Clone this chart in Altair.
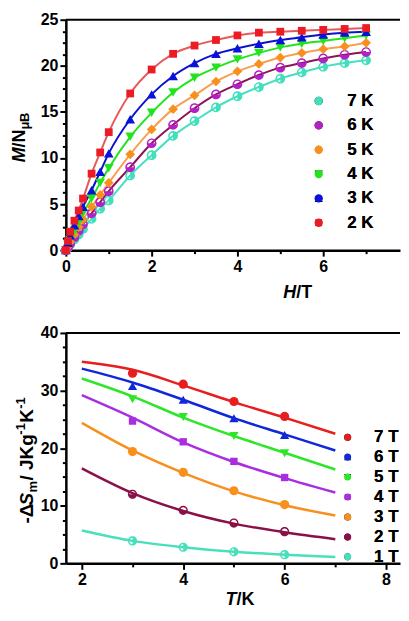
import altair as alt
import pandas as pd

# ---------------- top panel: M/NμB vs H/T ----------------
H_T = [0, 0.05, 0.1, 0.2, 0.3, 0.4, 0.6, 0.8, 1.0, 1.5, 2.0, 2.5, 3.0, 3.5,
       4.0, 4.5, 5.0, 5.5, 6.0, 6.5, 7.0]
M_2K = [0, 1.0, 2.0, 3.2, 4.3, 5.6, 8.3, 10.6, 12.8, 17.0, 19.6, 21.3, 22.2, 22.8,
        23.3, 23.6, 23.7, 23.8, 23.9, 24.0, 24.1]
M_3K = [0, 0.8, 1.6, 2.7, 3.7, 4.7, 6.5, 8.5, 10.5, 14.2, 16.9, 18.9, 20.3, 21.3,
        21.9, 22.4, 22.8, 23.1, 23.4, 23.6, 23.7]
M_4K = [0, 0.6, 1.1, 2.1, 3.0, 4.0, 5.6, 7.3, 8.9, 12.3, 14.9, 17.1, 18.7, 19.8,
        20.7, 21.4, 22.0, 22.4, 22.7, 23.0, 23.3]
M_5K = [0, 0.4, 0.9, 1.7, 2.5, 3.3, 4.7, 6.0, 7.3, 10.4, 13.1, 15.3, 16.8, 18.3,
        19.4, 20.2, 20.9, 21.4, 21.8, 22.1, 22.5]
M_6K = [0, 0.35, 0.7, 1.4, 2.1, 2.8, 4.0, 5.2, 6.4, 9.0, 11.6, 13.6, 15.4, 16.9,
        18.0, 19.0, 19.8, 20.3, 20.8, 21.2, 21.5]
M_7K = [0, 0.3, 0.6, 1.15, 1.7, 2.3, 3.4, 4.5, 5.4, 8.1, 10.3, 12.4, 14.0, 15.5,
        16.7, 17.7, 18.6, 19.3, 19.9, 20.3, 20.6]
top_series = ["7 K", "6 K", "5 K", "4 K", "3 K", "2 K"]
top_values = [M_7K, M_6K, M_5K, M_4K, M_3K, M_2K]

# ---------------- bottom panel: -ΔSm vs T/K ----------------
T_pts = [3, 4, 5, 6]
S_7T = [33.0, 31.1, 28.1, 25.5]
S_6T = [30.8, 28.4, 25.2, 22.3]
S_5T = [28.5, 25.4, 22.1, 19.1]
S_4T = [24.7, 21.1, 17.7, 14.9]
S_3T = [19.4, 15.8, 12.6, 10.2]
S_2T = [12.0, 9.2, 7.0, 5.5]
S_1T = [3.9, 2.8, 2.0, 1.5]
T_fit = [2, 3, 4, 5, 6, 7]
F_7T = [35.0, 33.6, 30.9, 28.0, 25.3, 22.5]
F_6T = [33.8, 31.4, 28.4, 25.2, 22.4, 19.6]
F_5T = [32.1, 29.0, 25.3, 22.1, 19.2, 16.3]
F_4T = [29.2, 25.3, 21.0, 17.6, 14.8, 12.3]
F_3T = [24.4, 19.6, 15.7, 12.5, 10.1, 8.3]
F_2T = [16.5, 12.2, 9.1, 6.9, 5.4, 4.2]
F_1T = [5.7, 3.9, 2.8, 2.0, 1.5, 1.1]
bot_series = ["7 T", "6 T", "5 T", "4 T", "3 T", "2 T", "1 T"]
bot_pts = [S_7T, S_6T, S_5T, S_4T, S_3T, S_2T, S_1T]
bot_fit = [F_7T, F_6T, F_5T, F_4T, F_3T, F_2T, F_1T]

# ---------------- styles ----------------
FONT = "Liberation Sans"
HALF_RIGHT = ("M-1,0A1,1 0 1,1 1,0A1,1 0 1,1 -1,0Z"
              "M-0.7,0A0.7,0.7 0 1,0 0.7,0A0.7,0.7 0 1,0 -0.7,0Z"
              "M0,-0.8A0.8,0.8 0 0,1 0,0.8Z")
HALF_BOTTOM = ("M-1,0A1,1 0 1,1 1,0A1,1 0 1,1 -1,0Z"
               "M-0.7,0A0.7,0.7 0 1,0 0.7,0A0.7,0.7 0 1,0 -0.7,0Z"
               "M0.8,0A0.8,0.8 0 0,1 -0.8,0Z")
SMALL_SQ = "M-0.8,-0.8H0.8V0.8H-0.8Z"

top_pt_colors = ["#3fe0bb", "#b41fc6", "#f7901e", "#22e41e", "#0a12d8", "#ec1c24"]
top_ln_colors = ["#48e0c0", "#8c1458", "#f8a050", "#22e41e", "#0a12d0", "#e65a5a"]
top_shapes = [HALF_RIGHT, HALF_BOTTOM, "diamond", "triangle-down", "triangle-up", SMALL_SQ]

bot_colors = ["#e81e1e", "#1028d8", "#2ee628", "#a82ee0", "#f8901e", "#8a1048", "#48e0bc"]
bot_shapes = ["circle", "triangle-up", "triangle-down", SMALL_SQ, "circle", HALF_BOTTOM, HALF_RIGHT]

top_rows = []
for s, vals in zip(top_series, top_values):
    for h, m in zip(H_T, vals):
        top_rows.append({"series": s, "H": h, "M": m})
df_top = pd.DataFrame(top_rows)

bp_rows, bf_rows = [], []
for s, pv, fv in zip(bot_series, bot_pts, bot_fit):
    for t, v in zip(T_pts, pv):
        bp_rows.append({"series": s, "T": t, "S": v})
    for t, v in zip(T_fit, fv):
        bf_rows.append({"series": s, "T": t, "S": v})
df_bp = pd.DataFrame(bp_rows)
df_bf = pd.DataFrame(bf_rows)


def axis(values, test):
    return alt.Axis(
        values=values, title=None, grid=False, format="d",
        labelExpr=f"({test}) ? datum.label : ''",
        tickSize={"condition": {"test": test, "value": 6}, "value": 3.5},
        tickWidth=2, tickColor="black", domainWidth=2.5, domainColor="black",
        labelFont=FONT, labelFontWeight="bold", labelFontSize=16, labelColor="black",
        labelPadding=2, labelOverlap=False, labelFlush=False, labelBound=False,
    )


def txt(s, x, y, size=18, style="normal", angle=0):
    return alt.Chart(alt.Data(values=[{"k": 0}])).mark_text(
        text=s, font=FONT, fontSize=size, fontWeight="bold", fontStyle=style,
        angle=angle, align="left", baseline="alphabetic", color="black",
    ).encode(x=alt.value(x), y=alt.value(y))


def top_border(w):
    return alt.Chart(alt.Data(values=[{"k": 0}])).mark_rule(color="black", strokeWidth=2).encode(
        x=alt.value(0), x2=alt.value(w), y=alt.value(0))


W = 335
HT = 231
HB = 231
# ---------- top chart ----------
xt = alt.X("H:Q", scale=alt.Scale(domain=[0, 7.79], nice=False, zero=False),
           axis=axis([i * 0.5 for i in range(16)], "datum.value % 2 === 0"))
yt = alt.Y("M:Q", scale=alt.Scale(domain=[0, 25], nice=False),
           axis=axis([i * 1.25 for i in range(21)], "datum.value % 5 === 0"))
leg_top = alt.Legend(orient="none", legendX=245, legendY=73, title=None,
                     labelFont=FONT, labelFontWeight="bold", labelFontSize=17,
                     labelColor="black", symbolSize=70, labelOffset=20,
                     rowPadding=6.4, padding=0, symbolStrokeWidth=0)
top_lines = alt.Chart(df_top).mark_line(strokeWidth=2, interpolate="monotone").encode(
    x=xt, y=yt, detail="series:N",
    color=alt.Color("series:N", scale=alt.Scale(domain=top_series, range=top_ln_colors), legend=None),
)
top_pts = alt.Chart(df_top).mark_point(filled=True, size=95, opacity=1, strokeWidth=0).encode(
    x=xt, y=yt,
    color=alt.Color("series:N", scale=alt.Scale(domain=top_series, range=top_pt_colors), legend=leg_top),
    shape=alt.Shape("series:N", scale=alt.Scale(domain=top_series, range=top_shapes), legend=leg_top),
)
top_titles = [
    txt("M", -41, 143, style="italic", angle=270),
    txt("/N", -41, 128, angle=270),
    txt("μ", -37, 110, size=13, angle=270),
    txt("B", -37, 102.5, size=13, angle=270),
    txt("H", 218, HT + 48, style="italic"),
    txt("/T", 231, HT + 48),
]
top = alt.layer(top_border(W), top_lines, top_pts, *top_titles).resolve_scale(
    color="independent").properties(width=W, height=HT)

# ---------- bottom chart ----------
xb = alt.X("T:Q", scale=alt.Scale(domain=[1.685, 8.276], nice=False, zero=False),
           axis=axis([2 + i * 0.5 for i in range(13)], "datum.value % 2 === 0"))
yb = alt.Y("S:Q", scale=alt.Scale(domain=[0, 40], nice=False),
           axis=axis([i * 2.5 for i in range(17)], "datum.value % 10 === 0"))
leg_bot = alt.Legend(orient="none", legendX=274, legendY=96, title=None,
                     labelFont=FONT, labelFontWeight="bold", labelFontSize=17,
                     labelColor="black", symbolSize=50, labelOffset=18,
                     rowPadding=2, padding=0, symbolStrokeWidth=0)
bot_lines = alt.Chart(df_bf).mark_line(strokeWidth=2.5, interpolate="monotone").encode(
    x=xb, y=yb, detail="series:N",
    color=alt.Color("series:N", scale=alt.Scale(domain=bot_series, range=bot_colors), legend=None),
)
bot_pts_layer = alt.Chart(df_bp).mark_point(filled=True, size=85, opacity=1, strokeWidth=0).encode(
    x=xb, y=yb,
    color=alt.Color("series:N", scale=alt.Scale(domain=bot_series, range=bot_colors), legend=leg_bot),
    shape=alt.Shape("series:N", scale=alt.Scale(domain=bot_series, range=bot_shapes), legend=leg_bot),
)
bot_titles = [
    txt("-Δ", -33, 191, size=19, angle=270),
    txt("S", -33, 173, size=19, style="italic", angle=270),
    txt("m", -29, 160, size=13, angle=270),
    txt("/ JKg", -33, 148, size=19, angle=270),
    txt("-1", -41, 102, size=13, angle=270),
    txt("K", -33, 90, size=19, angle=270),
    txt("-1", -41, 76, size=13, angle=270),
    txt("T", 160, HB + 42, style="italic"),
    txt("/K", 171, HB + 42),
]
bottom = alt.layer(top_border(W), bot_lines, bot_pts_layer, *bot_titles).resolve_scale(
    color="independent").properties(width=W, height=HB)

chart = alt.vconcat(top, bottom, spacing=23).resolve_scale(
    color="independent", shape="independent", x="independent", y="independent"
).properties(padding={"left": 3, "top": 3, "right": 0, "bottom": 0}).configure_view(
    strokeWidth=0
)

chart.save("out.html", embed_options={"renderer": "svg", "actions": False})
